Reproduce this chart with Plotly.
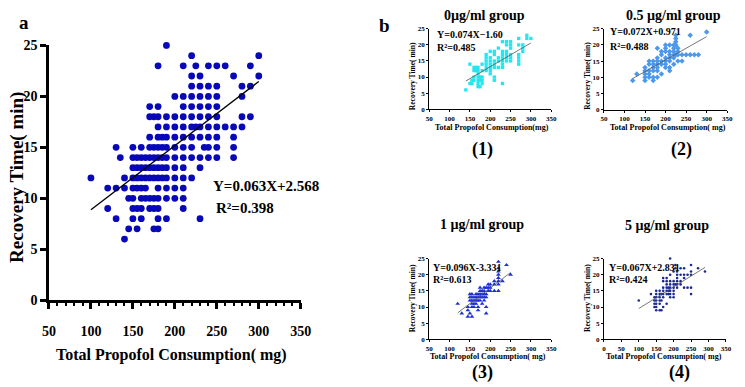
import plotly.graph_objects as go

W, H = 745, 387
FONT = "Liberation Serif"

# ---------------- data: panel a (all groups) ----------------
a_row_y = [25, 24, 23, 22, 21, 20, 19, 18, 17, 16, 15, 14, 13, 12, 11, 10, 9, 8, 7, 6]
a_row_x = [
    [190],
    [220, 300],
    [180, 210, 225, 240, 250, 260, 290],
    [220, 230, 270, 300],
    [220, 230, 240, 250, 280, 290],
    [200, 210, 220, 230, 240, 250, 280],
    [170, 180, 210, 220, 230, 240, 250],
    [170, 175, 180, 190, 200, 210, 220, 230, 240, 250, 280, 290],
    [180, 190, 200, 210, 220, 225, 230, 240, 250, 260, 270, 280],
    [170, 180, 185, 190, 200, 210, 220, 230, 240, 250, 270],
    [130, 150, 160, 170, 175, 180, 185, 190, 200, 210, 220, 235, 240, 250, 270],
    [135, 150, 155, 160, 165, 170, 175, 180, 185, 190, 200, 210, 220, 230, 240, 250, 270],
    [150, 155, 160, 165, 170, 175, 180, 185, 190, 200, 210, 230],
    [100, 140, 150, 155, 160, 165, 170, 175, 180, 185, 190, 200, 210, 220],
    [120, 130, 140, 150, 155, 160, 165, 180, 190, 200, 210],
    [145, 150, 160, 165, 170, 175, 180, 190, 200, 210],
    [120, 150, 155, 160, 170, 175, 180, 210],
    [130, 150, 160, 180, 190, 230],
    [145, 155, 175, 180],
    [140],
]
a_fit = (0.063, 2.568)

# ---------------- data: panel b groups (columns by x) ----------------
p1_col_x = [140, 150, 155, 160, 165, 170, 175, 180, 190, 200, 210, 220, 230, 240, 250, 270, 280, 290, 300]
p1_col_y = [
    [6], [14, 8], [8, 9], [9, 10, 12, 13], [12, 13], [7, 8, 9, 10, 11, 12, 13], [7, 9, 10],
    [8, 9, 10, 12, 14], [12, 13, 14, 15, 16, 17], [11, 12, 13, 14, 15, 16, 18],
    [9, 10, 13, 14, 15, 17, 18], [13, 15, 16, 19], [8, 13, 14, 15, 16, 17, 18, 21],
    [15, 16, 17, 18, 20, 21], [15, 16, 17, 19, 20, 21], [14, 15, 16, 17, 20, 22],
    [18, 19, 20], [22, 23], [22],
]
p1_fit = (0.074, -1.60)

p2_col_x = [120, 130, 150, 160, 170, 180, 190, 200, 210, 220, 225, 230, 240, 250, 260, 270, 280, 300]
p2_col_y = [
    [9], [11], [9, 10, 11, 12, 13], [10, 11, 12, 14, 15], [9, 10, 12, 13, 14, 15],
    [10, 12, 13, 14, 15, 16, 19], [11, 14, 15, 17, 18], [13, 14, 15, 16, 18, 19, 20],
    [12, 13, 15, 16, 17, 18, 20], [14, 16, 17, 18, 19, 20], [17, 20, 21, 22, 23],
    [15, 17, 18, 19], [15, 17], [17], [17, 23], [17], [17], [24],
]
p2_fit = (0.072, 0.971)

p3_col_x = [120, 130, 145, 150, 155, 160, 165, 170, 175, 180, 185, 190, 195, 200, 210, 220, 230, 240, 250]
p3_col_y = [
    [11], [8], [7, 9, 10], [8, 12, 13, 14], [7, 10, 11, 12, 13, 14], [10, 11, 12, 13],
    [11, 12, 13, 14], [9, 10, 12, 13, 14], [12, 13, 14, 15, 16], [11, 13, 14, 15],
    [12, 13, 14, 15, 16], [8, 10, 13, 14, 16], [15, 16, 17], [15, 16, 17], [15, 17, 18],
    [15, 17, 18, 19, 20, 21, 22, 24], [18], [23], [20],
]
p3_fit = (0.096, -3.331)

p4_col_x = [100, 135, 145, 150, 160, 165, 170, 180, 185, 190, 200, 205, 210, 220, 230, 240, 250, 270, 290]
p4_col_y = [
    [12], [14], [10, 11, 12, 13], [9, 10, 11, 12, 13, 14, 15], [9, 11, 12, 13, 14, 15],
    [9, 12, 14], [10, 13, 14, 15, 16, 18, 19], [11, 14, 15, 16, 17, 18, 19], [14, 15, 16],
    [13, 14, 15, 16, 17, 18, 20, 25], [13, 14, 15, 16, 17, 18, 21], [17, 22, 23],
    [16, 17, 18, 19, 20, 21], [17, 18, 20, 22], [16, 19, 20, 22], [16, 20],
    [14, 16, 20, 21, 23], [22], [21],
]
p4_fit = (0.067, 2.831)

titles = ["0µg/ml group", "0.5 µg/ml group", "1 µg/ml group", "5 µg/ml group"]
labels = ["(1)", "(2)", "(3)", "(4)"]
eqs = ["Y=0.074X−1.60", "Y=0.072X+0.971", "Y=0.096X-3.331", "Y=0.067X+2.831"]
r2s = ["R²=0.485", "R²=0.488", "R²=0.613", "R²=0.424"]
xtitles = ["Total Propofol Consumption(mg)", "Total Propofol Consumption( mg)",
           "Total Propofol Consumption( mg)", "Total Propofol Consumption( mg)"]


def fx(p):
    return p / W


def fy(p):
    return 1 - p / H


def flat_rows(row_key, row_vals):
    xs, ys = [], []
    for k, vals in zip(row_key, row_vals):
        for v in vals:
            xs.append(v)
            ys.append(k)
    return xs, ys


fig = go.Figure()

# panel a
ax, ay = flat_rows(a_row_y, a_row_x)
fig.add_trace(go.Scatter(x=ax, y=ay, mode="markers", cliponaxis=False,
                         marker=dict(color="#0808b8", size=6.8, line=dict(width=0)),
                         xaxis="x", yaxis="y", showlegend=False))
lx = [min(ax), max(ax)]
fig.add_trace(go.Scatter(x=lx, y=[a_fit[0] * v + a_fit[1] for v in lx], mode="lines",
                         line=dict(color="black", width=1.3), xaxis="x", yaxis="y",
                         showlegend=False))

groups = [
    (p1_col_x, p1_col_y, p1_fit, dict(color="#22e6f0", symbol="square", size=3.3)),
    (p2_col_x, p2_col_y, p2_fit, dict(color="#4b98ec", symbol="diamond", size=4.2)),
    (p3_col_x, p3_col_y, p3_fit, dict(color="#2030d0", symbol="triangle-up", size=4.2)),
    (p4_col_x, p4_col_y, p4_fit, dict(color="#1c2a90", symbol="circle", size=2.6)),
]
for i, (cx, cy, fit, mk) in enumerate(groups):
    n = i + 2
    xs, ys = [], []
    for k, vals in zip(cx, cy):
        for v in vals:
            xs.append(k)
            ys.append(v)
    fig.add_trace(go.Scatter(x=xs, y=ys, mode="markers", cliponaxis=False,
                             marker=dict(line=dict(width=0), **mk),
                             xaxis=f"x{n}", yaxis=f"y{n}", showlegend=False))
    lx = [min(xs), max(xs)]
    fig.add_trace(go.Scatter(x=lx, y=[fit[0] * v + fit[1] for v in lx], mode="lines",
                             line=dict(color="#555555", width=0.8),
                             xaxis=f"x{n}", yaxis=f"y{n}", showlegend=False))

big_tick = dict(family=FONT, size=14, color="black", weight="bold")
small_tick = dict(family=FONT, size=7, color="black", weight="bold")

layout = dict(
    width=W, height=H, margin=dict(l=0, r=0, t=0, b=0),
    paper_bgcolor="white", plot_bgcolor="white", showlegend=False,
)

# panel a axes
layout["xaxis"] = dict(domain=[fx(43), fx(301)], range=[50, 350], anchor="y",
                       tickvals=[50, 100, 150, 200, 250, 300, 350],
                       showline=True, linecolor="black", linewidth=2.5, ticks="outside",
                       ticklen=6, tickwidth=2.5, tickcolor="black", tickfont=big_tick,
                       ticklabelstandoff=10, showgrid=False, zeroline=False,
                       minor=dict(ticks="outside", dtick=10, ticklen=3, tickwidth=1.5,
                                  tickcolor="black"))
layout["yaxis"] = dict(domain=[fy(305), fy(40)], range=[0, 25], anchor="x",
                       tickvals=[0, 5, 10, 15, 20, 25],
                       showline=True, linecolor="black", linewidth=2.5, ticks="outside",
                       ticklen=6, tickwidth=2.5, tickcolor="black", tickfont=big_tick,
                       showgrid=False, zeroline=False)

# small panels: (x0px, x1px, xmin, y0px(bottom), y1px(top))
small = [
    (432.7, 557.7, 50, 106.3, 22.7),
    (611.7, 738.0, 50, 106.7, 22.7),
    (432.7, 557.7, 50, 345.7, 261.7),
    (611.7, 736.7, 0, 345.7, 261.7),
]
for i, (x0, x1, xmin, yb, yt) in enumerate(small):
    n = i + 2
    tv = list(range(xmin, 351, 50))
    layout[f"xaxis{n}"] = dict(domain=[fx(x0), fx(x1)], range=[xmin, 350], anchor=f"y{n}",
                               tickvals=tv, showline=True, linecolor="black", linewidth=1,
                               ticks="outside", ticklen=2, tickwidth=1, tickcolor="black",
                               tickfont=small_tick, showgrid=False, zeroline=False)
    layout[f"yaxis{n}"] = dict(domain=[fy(yb), fy(yt)], range=[0, 25], anchor=f"x{n}",
                               tickvals=[0, 5, 10, 15, 20, 25], showline=True,
                               linecolor="black", linewidth=1, ticks="outside", ticklen=2,
                               tickwidth=1, tickcolor="black", tickfont=small_tick,
                               showgrid=False, zeroline=False)

fig.update_layout(**layout)


def ann(text, x, y, size, xanchor="center", angle=0, yanchor="middle"):
    fig.add_annotation(text=text, x=fx(x), y=fy(y), xref="paper", yref="paper",
                       showarrow=False, xanchor=xanchor, yanchor=yanchor, textangle=angle,
                       font=dict(family=FONT, size=size, color="black"))


# panel a texts
ann("<b>a</b>", 17, 16, 19)
ann("<b>b</b>", 387, 19, 19)
ann("<b>Y=0.063X+2.568</b>", 209, 186.5, 15, xanchor="left")
ann("<b>R²=0.398</b>", 212, 209, 15, xanchor="left")
ann("<b>Total Propofol Consumption( mg)</b>", 169, 362, 16)
ann("<b>Recovery Time( min)</b>", 10, 177, 19, angle=-90)

# small panel texts
title_pos = [(489, 9), (683, 9), (486.6, 226), (676, 227)]
label_pos = [(487, 148), (691, 148), (487, 380), (689, 380)]
eq_pos = [(439, 29, 42), (616, 25, 41), (435, 271, 284), (615, 271, 284)]
xt_pos = [(497, 125), (677.5, 125), (493, 364), (673, 364)]
yt_pos = [(415, 72), (595, 72), (415, 303), (595, 303)]
for i in range(4):
    ann(f"<b>{titles[i]}</b>", title_pos[i][0], title_pos[i][1], 14)
    ann(f"<b>{labels[i]}</b>", label_pos[i][0], label_pos[i][1], 18)
    ann(f"<b>{eqs[i]}</b>", eq_pos[i][0], eq_pos[i][1], 10, xanchor="left")
    ann(f"<b>{r2s[i]}</b>", eq_pos[i][0], eq_pos[i][2], 10, xanchor="left")
    ann(f"<b>{xtitles[i]}</b>", xt_pos[i][0], xt_pos[i][1], 8)
    ann("<b>Recovery Time( min)</b>", yt_pos[i][0], yt_pos[i][1], 7.5, angle=-90)

fig.write_html("out.html")
